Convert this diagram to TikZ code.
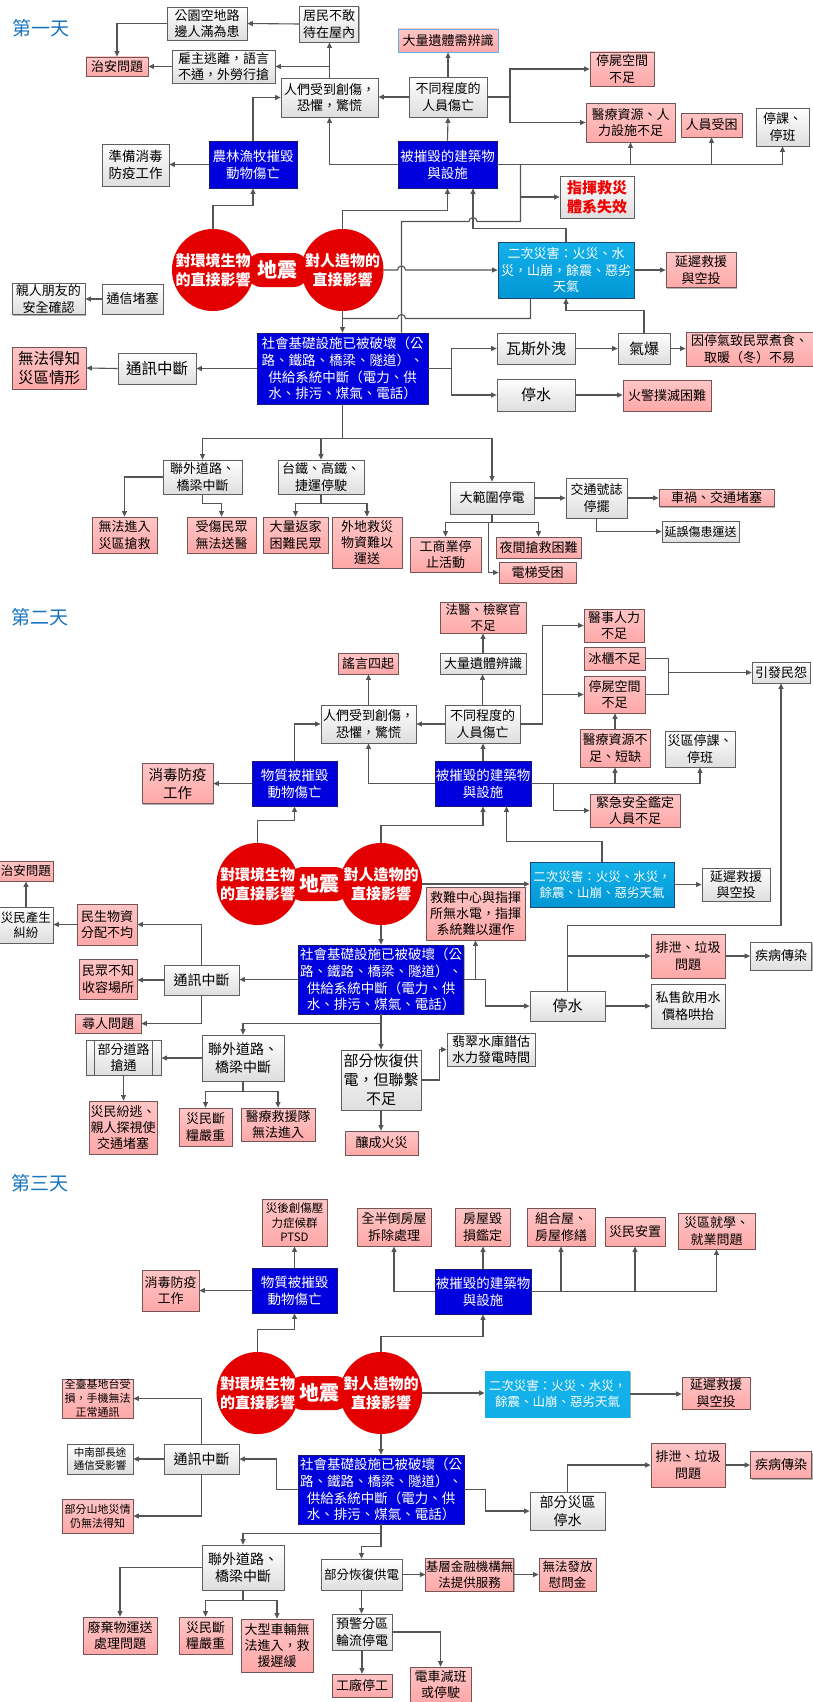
\documentclass[tikz,border=0pt]{standalone}
\usepackage{fontspec}
\setmainfont{Noto Sans CJK TC}
\usetikzlibrary{arrows.meta,shadows}
\definecolor{lineC}{RGB}{85,85,85}
\definecolor{gBord}{RGB}{95,95,95}
\definecolor{gBot}{RGB}{222,222,222}
\definecolor{pTop}{RGB}{255,198,198}
\definecolor{pBot}{RGB}{255,168,168}
\definecolor{pBord}{RGB}{115,85,85}
\definecolor{bFill}{RGB}{0,0,222}
\definecolor{bBord}{RGB}{25,25,110}
\definecolor{cFill}{RGB}{0,150,212}
\definecolor{cTop}{RGB}{20,178,235}
\definecolor{cBord}{RGB}{30,70,120}
\definecolor{cirRed}{RGB}{228,0,0}
\definecolor{titleC}{RGB}{22,115,190}
\definecolor{lBlue}{RGB}{90,180,230}
\definecolor{redT}{RGB}{240,0,0}
\tikzset{
  f/.style={font=\fontsize{#1}{\fpeval{#1*1.25}}\selectfont},
  sz/.style 2 args={minimum width=#1pt,minimum height=#2pt},
  boxbase/.style={rectangle,align=center,inner sep=0pt,line width=0.8pt,f=13,
     drop shadow={shadow xshift=1.3pt,shadow yshift=-1.3pt,opacity=0.3,fill=black}},
  gb/.style={boxbase,draw=gBord,top color=white,bottom color=gBot,text=black},
  pb/.style={boxbase,draw=pBord,top color=pTop,bottom color=pBot,text=black},
  bb/.style={boxbase,draw=bBord,fill=bFill,text=white,f=13.5},
  cb/.style={boxbase,draw=cBord,top color=cTop,bottom color=cFill,text=white},
  cbl/.style={boxbase,draw=none,top color=cTop,bottom color=cTop!85!cFill,text=white},
  circ/.style={circle,fill=cirRed,minimum size=81pt,inner sep=0pt,text=white,align=center,font=\fontsize{15}{19}\selectfont\bfseries},
  pill/.style={rectangle,rounded corners=15pt,fill=cirRed,minimum width=62pt,minimum height=34pt,inner sep=0pt,text=white,font=\fontsize{20}{24}\selectfont\bfseries},
  ttl/.style={text=titleC,font=\fontsize{19}{23}\selectfont,inner sep=0pt},
  fb/.style={font=\fontsize{15}{19}\selectfont\bfseries},
  ln/.style={draw=lineC,line width=1.1pt},
  arr/.style={ln,-{Triangle[length=5.5pt,width=5pt]}},
}
\begin{document}
\begin{tikzpicture}[x=1pt,y=-1pt]
\fill[white] (0,0) rectangle (813,1702);
\useasboundingbox (0,0) rectangle (813,1702);

%%%%%%%%%%%%%%%% DAY 1
\node[ttl] (T1) at (41,28) {第一天};
\node[gb,sz={80}{33}] (A1) at (207,23.5) {公園空地路\\邊人滿為患};
\node[gb,sz={59}{36}] (A2) at (329,24) {居民不敢\\待在屋內};
\node[pb,sz={62}{19}] (A3) at (117,66.5) {治安問題};
\node[gb,sz={103}{33}] (A4) at (223.5,66.5) {雇主逃離，語言\\不通，外勞行搶};
\node[gb,sz={97}{39}] (A5) at (329.5,97.5) {人們受到創傷，\\恐懼，驚慌};
\node[gb,sz={67}{42},f=13.5] (A6) at (135.5,165) {準備消毒\\防疫工作};
\node[bb,sz={88}{47}] (A7) at (253,164.5) {農林漁牧摧毀\\動物傷亡};
\node[pb,sz={100}{23},draw=lBlue] (A8) at (448,40.5) {大量遺體需辨識};
\node[gb,sz={78}{40}] (A9) at (448,97) {不同程度的\\人員傷亡};
\node[pb,sz={64}{34}] (A10) at (622,69) {停屍空間\\不足};
\node[pb,sz={89}{39}] (A11) at (630.5,122.5) {醫療資源、人\\力設施不足};
\node[pb,sz={61}{24}] (A12) at (711.5,125) {人員受困};
\node[gb,sz={53}{38}] (A13) at (782.5,127) {停課、\\停班};
\node[bb,sz={99}{47}] (A14) at (447.5,164.5) {被摧毀的建築物\\與設施};
\node[gb,sz={74}{42},text=redT,fb] (A15) at (597,197) {指揮救災\\體系失效};
\node[cb,sz={136}{56}] (A16) at (566,270) {二次災害：火災、水\\災，山崩，餘震、惡劣\\天氣};
\node[pb,sz={70}{35}] (A17) at (701,270) {延遲救援\\與空投};
\node[pill] (Q1) at (277.5,270) {地震};
\node[circ] (C1L) at (213,270) {對環境生物\\的直接影響};
\node[circ] (C1R) at (342.5,270) {對人造物的\\直接影響};
\node[gb,sz={73}{31}] (A18) at (48.5,299) {親人朋友的\\安全確認};
\node[gb,sz={61}{30}] (A19) at (132.5,299) {通信堵塞};
\node[pb,sz={74}{42},f=15.5] (A20) at (49,368) {無法得知\\災區情形};
\node[gb,sz={78}{31},f=15.5] (A21) at (157,368.5) {通訊中斷};
\node[bb,sz={171}{71}] (A22) at (342.5,368.5) {社會基礎設施已被破壞（公\\路、鐵路、橋梁、隧道）、\\供給系統中斷（電力、供\\水、排污、煤氣、電話）};
\node[gb,sz={79}{34}] (A23) at (202.5,477) {聯外道路、\\橋梁中斷};
\node[gb,sz={86}{34}] (A24) at (321,477) {台鐵、高鐵、\\捷運停駛};
\node[pb,sz={65}{36}] (A25) at (124.5,535) {無法進入\\災區搶救};
\node[pb,sz={69}{36}] (A26) at (221.5,535) {受傷民眾\\無法送醫};
\node[pb,sz={65}{36}] (A27) at (295.5,535) {大量返家\\困難民眾};
\node[pb,sz={70}{51}] (A28) at (367,542.5) {外地救災\\物資難以\\運送};
\node[gb,sz={78}{31},f=15] (A29) at (536,348.5) {瓦斯外洩};
\node[gb,sz={52}{31},f=15] (A30) at (644,348.5) {氣爆};
\node[pb,sz={127}{34}] (A31) at (749.5,349) {因停氣致民眾煮食、\\取暖（冬）不易};
\node[gb,sz={78}{32},f=15] (A32) at (536,395) {停水};
\node[pb,sz={88}{31}] (A33) at (667,395.5) {火警撲滅困難};
\node[gb,sz={84}{32}] (A34) at (492,498) {大範圍停電};
\node[gb,sz={61}{40}] (A35) at (596.5,498) {交通號誌\\停擺};
\node[pb,sz={115}{17}] (A36) at (716.5,498) {車禍、交通堵塞};
\node[gb,sz={77}{21},f=12] (A37) at (700.5,531.5) {延誤傷患運送};
\node[pb,sz={71}{35}] (A38) at (445.5,554.5) {工商業停\\止活動};
\node[pb,sz={85}{21}] (A39) at (538.5,547.5) {夜間搶救困難};
\node[pb,sz={77}{21}] (A40) at (537.5,572.5) {電梯受困};

\draw[arr] (A2.west) -- (A1.east);
\draw[arr] (A1.west) -| (A3.north);
\draw[arr] (A4.west) -- (A3.east);
\draw[arr] (A5.north) -- (A5.north |- A2.south);
\draw[arr] (A5.north |- A4.east) -- (A4.east);
\draw[arr] (A7.north) |- (A5.west);
\draw[arr] (A7.west) -- (A7.west -| A6.east);
\draw[arr] (C1L.north) -- ++(0,-23) -| (A7.south);
\draw[arr] (A14.west) -| (A5.south);
\draw[arr] (A9.west) -- (A9.west -| A5.east);
\draw[arr] (A9.north) -- (A8.south);
\draw[arr] (A9.east) -- (510,97) |- (A10.west);
\draw[arr] (510,97) |- (A11.west);
\draw[arr] (A14.north) -- (A9.south);
\draw[arr] (A14.east) -| (A13.south);
\draw[arr] (A11.south |- A14.east) -- (A11.south);
\draw[arr] (A12.south |- A14.east) -- (A12.south);
\draw[arr] (520.5,197) -- (A15.west);
\draw[ln] (A22.north -| 401.5,0) -- (401.5,221.5) -- (469,221.5) arc[start angle=180,end angle=0,radius=4pt] -- (520.5,221.5) -- (520.5,164.5);
\draw[arr] (C1R.north) -- ++(0,-18) -| (A14.south);
\draw[arr] (A16.north) -- ++(0,-13) -| (A14.south -| 473,0);
\draw[arr] (C1R.east) -- (397.5,270) arc[start angle=180,end angle=0,radius=4pt] -- (A16.west);
\draw[arr] (A16.east) -- (A17.west);
\draw[arr] (C1R.south) -- (A22.north);
\draw[ln] (342.5,318.5) -- (397.5,318.5) arc[start angle=180,end angle=0,radius=4pt] -- (530.5,318.5) -- (A16.south -| 530.5,0);
\draw[arr] (A30.north) |- (566,310.5) -- (A16.south);
\draw[arr] (A22.west) -- (A21.east);
\draw[arr] (A21.west) -- (A20.east);
\draw[arr] (A19.west) -- (A18.east);
\draw[arr] (A22.east) -- (451.5,368.5) |- (A29.west);
\draw[arr] (451.5,368.5) |- (A32.west);
\draw[arr] (A29.east) -- (A30.west);
\draw[arr] (A30.east) -- (A30.east -| A31.west);
\draw[arr] (A32.east) -- (A32.east -| A33.west);
\draw[ln] (A22.south) -- (342.5,438.5);
\draw[arr] (342.5,438.5) -| (A23.north);
\draw[arr] (342.5,438.5) -| (A24.north);
\draw[arr] (342.5,438.5) -| (A34.north);
\draw[arr] (A23.west) -| (A25.north);
\draw[arr] (A23.south) -- (202.5,503.5) -| (A26.north);
\draw[arr] (A24.south) -- (321,503.5) -| (A27.north);
\draw[arr] (321,503.5) -| (A28.north);
\draw[arr] (A34.east) -- (A35.west);
\draw[arr] (A35.east) -- (A35.east -| A36.west);
\draw[arr] (A35.south) |- (A37.west);
\draw[ln] (A34.south) -- (492,522.5);
\draw[arr] (492,522.5) -| (A38.north);
\draw[arr] (492,522.5) -| (A39.north);
\draw[arr] (488.5,522.5) |- (A40.west);

%%%%%%%%%%%%%%%% DAY 2
\node[ttl] (T2) at (40,617) {第二天};
\node[pb,sz={60}{21}] (B1) at (368,663.5) {謠言四起};
\node[gb,sz={95}{38}] (B2) at (368.5,724) {人們受到創傷，\\恐懼，驚慌};
\node[pb,sz={71}{40},f=14.5] (B3) at (177.5,783.5) {消毒防疫\\工作};
\node[bb,sz={85}{45}] (B4) at (294.5,783.5) {物質被摧毀\\動物傷亡};
\node[pb,sz={86}{31},f=12.5] (B5) at (483,617.5) {法醫、檢察官\\不足};
\node[gb,sz={86}{21}] (B6) at (483,663.5) {大量遺體辨識};
\node[gb,sz={75}{38}] (B7) at (482.5,724) {不同程度的\\人員傷亡};
\node[bb,sz={96}{45}] (B8) at (483,783.5) {被摧毀的建築物\\與設施};
\node[pb,sz={60}{33}] (B9) at (614,625.5) {醫事人力\\不足};
\node[pb,sz={61}{23}] (B10) at (614.5,658.5) {冰櫃不足};
\node[pb,sz={61}{37}] (B11) at (614.5,694.5) {停屍空間\\不足};
\node[pb,sz={70}{38}] (B12) at (615,748) {醫療資源不\\足、短缺};
\node[gb,sz={70}{36}] (B13) at (700,749) {災區停課、\\停班};
\node[pb,sz={90}{33}] (B14) at (635,810.5) {緊急安全鑑定\\人員不足};
\node[gb,sz={58}{21}] (B15) at (781,672.5) {引發民怨};
\node[pb,sz={54}{20},f=12.5] (B16) at (26,871) {治安問題};
\node[gb,sz={54}{36},f=12.5] (B17) at (26,925) {災民產生\\糾紛};
\node[pb,sz={60}{41}] (B18) at (107,924.5) {民生物資\\分配不均};
\node[pb,sz={58}{40}] (B19) at (108,979) {民眾不知\\收容場所};
\node[pb,sz={66}{19}] (B20) at (108,1023.5) {尋人問題};
\node[gb,sz={75}{30},f=14] (B21) at (201.5,980) {通訊中斷};
\node[bb,sz={165}{69}] (B22) at (381,979.5) {社會基礎設施已被破壞（公\\路、鐵路、橋梁、隧道）、\\供給系統中斷（電力、供\\水、排污、煤氣、電話）};
\node[gb,sz={82}{46},f=14] (B23) at (243,1058) {聯外道路、\\橋梁中斷};
\node[gb,sz={75}{35}] (B24) at (123.5,1057.5) {部分道路\\搶通};
\draw[draw=gBord,line width=0.8pt] ([xshift=9pt]B24.north west) -- ([xshift=9pt]B24.south west);
\draw[draw=gBord,line width=0.8pt] ([xshift=-9pt]B24.north east) -- ([xshift=-9pt]B24.south east);
\node[pb,sz={68}{53}] (B25) at (123,1127.5) {災民紛逃、\\親人探視使\\交通堵塞};
\node[pb,sz={53}{38}] (B26) at (205.5,1127) {災民斷\\糧嚴重};
\node[pb,sz={74}{33}] (B27) at (278,1124.5) {醫療救援隊\\無法進入};
\node[gb,sz={80}{60},f=15] (B28) at (381,1080) {部分恢復供\\電，但聯繫\\不足};
\node[pb,sz={73}{24}] (B29) at (381.5,1143) {釀成火災};
\node[cb,sz={144}{45},f=12.5] (B30) at (602,884.5) {二次災害：火災、水災，\\餘震、山崩、惡劣天氣};
\node[gb,sz={68}{33}] (B31) at (736,884.5) {延遲救援\\與空投};
\node[pb,sz={99}{53}] (B32) at (475.5,913.5) {救難中心與指揮\\所無水電，指揮\\系統難以運作};
\node[gb,sz={75}{30},f=15] (B33) at (567.5,1006) {停水};
\node[gb,sz={74}{44}] (B34) at (688,1006) {私售飲用水\\價格哄抬};
\node[pb,sz={74}{44}] (B35) at (688,956) {排泄、垃圾\\問題};
\node[gb,sz={61}{28}] (B36) at (781,956) {疾病傳染};
\node[gb,sz={88}{33}] (B37) at (491,1049.5) {翡翠水庫錯估\\水力發電時間};
\node[pill] (Q2) at (319,884) {地震};
\node[circ] (C2L) at (257.5,884) {對環境生物\\的直接影響};
\node[circ] (C2R) at (381,884) {對人造物的\\直接影響};

\draw[arr] (B2.north) -- (B2.north |- B1.south);
\draw[arr] (B4.north) |- (B2.west);
\draw[arr] (B4.west) -- (B4.west -| B3.east);
\draw[arr] (B8.west) -| (B2.south);
\draw[arr] (C2L.north) -- ++(0,-22) -| (B4.south);
\draw[arr] (C2R.north) -- ++(0,-17) -| (B8.south);
\draw[arr] (B30.north) -- ++(0,-20) -| (B8.south -| 506.5,0);
\draw[arr] (B7.west) -- (B2.east);
\draw[arr] (B7.north) -- (B7.north |- B6.south);
\draw[arr] (B6.north) -- (B5.south);
\draw[arr] (B8.north) -- (B8.north |- B7.south);
\draw[arr] (B7.east) -- (542.5,724) |- (B9.west);
\draw[arr] (542.5,724) |- (B11.west);
\draw[arr] (B12.north) -- (B12.north |- B11.south);
\draw[arr] (B8.east) -| (B13.south);
\draw[arr] (B12.south |- B8.east) -- (B12.south);
\draw[arr] (553.5,783.5) |- (B14.west);
\draw[ln] (B10.east) -| (668.5,694.5) -- (B11.east);
\draw[arr] (668.5,672.5) -- (B15.west);
\draw[arr] (B33.north) -- (567.5,925.5) -| (B15.south);
\draw[arr] (567.5,956) -- (B35.west);
\draw[arr] (B35.east) -- (B36.west);
\draw[arr] (B33.east) -- (B34.west);
\draw[arr] (C2R.east) -- (C2R.east -| B30.west);
\draw[arr] (B30.east) -- (B31.west);
\draw[arr] (B22.east) -| (B32.south);
\draw[arr] (475.5,979.5) -- (485.5,979.5) |- (B33.west);
\draw[arr] (B22.west) -- (B22.west -| B21.east);
\draw[arr] (B21.west) -- (B21.west -| B19.east);
\draw[arr] (B21.north) |- (B18.east);
\draw[arr] (B21.south) |- (B20.east);
\draw[arr] (B18.west) -- (B18.west -| B17.east);
\draw[arr] (B17.north) -- (B16.south);
\draw[arr] (C2R.south) -- (B22.north);
\draw[arr] (B22.south) -- (381,1023.5) -| (B23.north);
\draw[arr] (381,1023.5) -- (B28.north);
\draw[arr] (B23.west) -- (B23.west -| B24.east);
\draw[arr] (B24.south) -- (B24.south |- B25.north);
\draw[arr] (B23.south) -- (243,1091.5) -| (B26.north);
\draw[arr] (243,1091.5) -| (B27.north);
\draw[arr] (B28.south) -- (B28.south |- B29.north);
\draw[arr] (B28.east) -- (439.5,1080) |- (B37.west);

%%%%%%%%%%%%%%%% DAY 3
\node[ttl] (T3) at (40,1183.5) {第三天};
\node[pb,sz={65}{47},f=11.5] (D1) at (294.5,1222.5) {災後創傷壓\\力症候群\\PTSD};
\node[pb,sz={57}{41}] (D2) at (170.5,1290.5) {消毒防疫\\工作};
\node[bb,sz={85}{45}] (D3) at (294.5,1290.5) {物質被摧毀\\動物傷亡};
\node[pb,sz={74}{38}] (D4) at (394,1227) {全半倒房屋\\拆除處理};
\node[pb,sz={55}{38}] (D5) at (482.5,1227) {房屋毀\\損鑑定};
\node[pb,sz={68}{38}] (D6) at (561,1227) {組合屋、\\房屋修繕};
\node[pb,sz={60}{29}] (D7) at (635,1231.5) {災民安置};
\node[pb,sz={77}{36}] (D8) at (716.5,1231) {災區就學、\\就業問題};
\node[bb,sz={96}{45}] (D9) at (483,1291.5) {被摧毀的建築物\\與設施};
\node[cbl,sz={145}{46},f=12.5] (D10) at (557.5,1394) {二次災害：火災、水災，\\餘震、山崩、惡劣天氣};
\node[pb,sz={68}{32}] (D11) at (716,1393) {延遲救援\\與空投};
\node[pb,sz={71}{39},f=11] (D12) at (97.5,1398.5) {全臺基地台受\\損，手機無法\\正常通訊};
\node[gb,sz={75}{30},f=14] (D13) at (201.5,1459) {通訊中斷};
\node[gb,sz={66}{30},f=10.5] (D14) at (100,1459) {中南部長途\\通信受影響};
\node[pb,sz={71}{34},f=11] (D15) at (97.5,1516) {部分山地災情\\仍無法得知};
\node[bb,sz={166}{69}] (D16) at (381,1489.5) {社會基礎設施已被破壞（公\\路、鐵路、橋梁、隧道）、\\供給系統中斷（電力、供\\水、排污、煤氣、電話）};
\node[gb,sz={82}{45},f=14] (D17) at (243,1567.5) {聯外道路、\\橋梁中斷};
\node[pb,sz={74}{37}] (D18) at (120,1635.5) {廢棄物運送\\處理問題};
\node[pb,sz={53}{37}] (D19) at (205.5,1635.5) {災民斷\\糧嚴重};
\node[pb,sz={72}{53}] (D20) at (277,1645.5) {大型車輛無\\法進入，救\\援遲緩};
\node[gb,sz={81}{31},f=12.5] (D21) at (361.5,1574.5) {部分恢復供電};
\node[gb,sz={60}{36}] (D22) at (362,1632) {預警分區\\輪流停電};
\node[pb,sz={60}{23}] (D23) at (362,1685.5) {工廠停工};
\node[gb,sz={75}{38},f=14] (D24) at (567.5,1511) {部分災區\\停水};
\node[pb,sz={74}{44}] (D25) at (688,1465) {排泄、垃圾\\問題};
\node[pb,sz={61}{27}] (D26) at (781,1465) {疾病傳染};
\node[pb,sz={87}{33},f=12.5] (D27) at (469.5,1574.5) {基層金融機構無\\法提供服務};
\node[pb,sz={57}{33},f=12.5] (D28) at (567.5,1574.5) {無法發放\\慰問金};
\node[pb,sz={61}{35}] (D29) at (440.5,1684.5) {電車減班\\或停駛};
\node[pill] (Q3) at (319,1393) {地震};
\node[circ] (C3L) at (257.5,1393) {對環境生物\\的直接影響};
\node[circ] (C3R) at (381,1393) {對人造物的\\直接影響};

\draw[arr] (D3.north) -- (D1.south);
\draw[arr] (D3.west) -- (D2.east);
\draw[arr] (C3L.north) -- ++(0,-22) -| (D3.south);
\draw[arr] (C3R.north) -- ++(0,-15) -| (D9.south);
\draw[arr] (D9.north) -- (D9.north |- D5.south);
\draw[arr] (D9.west) -| (D4.south);
\draw[arr] (D9.east) -| (D8.south);
\draw[arr] (D6.south |- D9.east) -- (D6.south);
\draw[arr] (D7.south |- D9.east) -- (D7.south);
\draw[arr] (C3R.east) -- (C3R.east -| D10.west);
\draw[arr] (D10.east) -- (D10.east -| D11.west);
\draw[arr] (D13.north) |- (D12.east);
\draw[arr] (D13.west) -- (D14.east);
\draw[arr] (D13.south) |- (D15.east);
\draw[arr] (D16.west) -- (276.5,1489.5) |- (D13.east);
\draw[arr] (C3R.south) -- (D16.north);
\draw[arr] (D16.south) -- (381,1533.5) -| (D17.north);
\draw[arr] (381,1533.5) -- (381,1546.5) -| (D21.north);
\draw[arr] (D17.west) -| (D18.north);
\draw[arr] (D17.south) -- (243,1600.5) -| (D19.north);
\draw[arr] (243,1600.5) -| (D20.north);
\draw[arr] (D21.south) -- (D21.south |- D22.north);
\draw[arr] (D22.south) -- (D23.north);
\draw[arr] (D21.east) -- (D27.west);
\draw[arr] (D27.east) -- (D28.west);
\draw[arr] (D22.east) -- (440.5,1632) -- (D29.north);
\draw[arr] (D16.east) -- (485.5,1489.5) |- (D24.west);
\draw[arr] (D24.north) |- (D25.west);
\draw[arr] (D25.east) -- (D26.west);
\end{tikzpicture}
\end{document}
